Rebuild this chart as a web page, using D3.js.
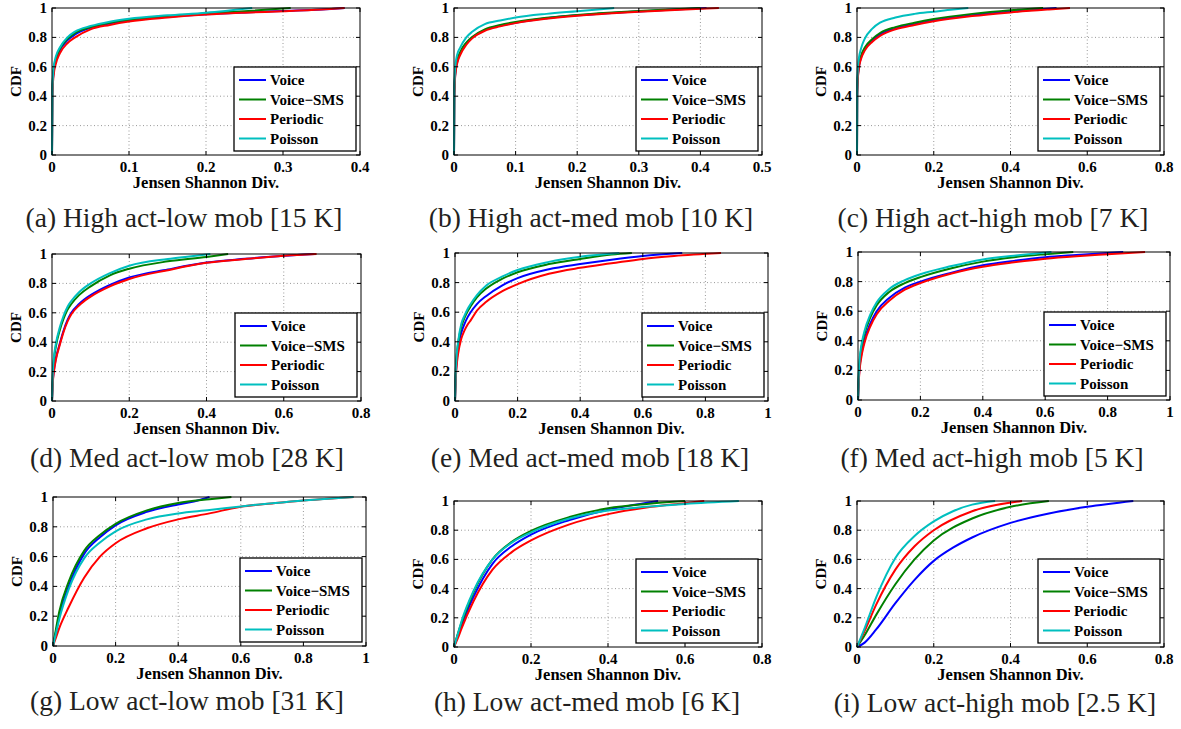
<!DOCTYPE html>
<html>
<head>
<meta charset="utf-8">
<script src="https://d3js.org/d3.v7.min.js"></script>
<style>
  body { margin: 0; background: #fff; }
  text { font-family: "Liberation Serif", "Times New Roman", serif; }
</style>
</head>
<body>
<script>
// legend entries, matlab default colours
var seriesNames = ["Voice", "Voice\u2212SMS", "Periodic", "Poisson"];
var seriesColors = ["#0000ff", "#008000", "#ff0000", "#00bfbf"];

var captions = [
  "(a) High act-low mob [15 K]", "(b) High act-med mob [10 K]", "(c) High act-high mob [7 K]",
  "(d) Med act-low mob [28 K]", "(e) Med act-med mob [18 K]", "(f) Med act-high mob [5 K]",
  "(g) Low act-low mob [31 K]", "(h) Low act-med mob [6 K]", "(i) Low act-high mob [2.5 K]"
];
var xMax = [0.4, 0.5, 0.8, 0.8, 1, 1, 1, 0.8, 0.8];
var xStep = [0.1, 0.1, 0.2, 0.2, 0.2, 0.2, 0.2, 0.2, 0.2];
var yTicks = [0, 0.2, 0.4, 0.6, 0.8, 1];

// CDF points [Jensen Shannon div, CDF]
var aVoice    = [[0,0],[0.0005,0.42],[0.002,0.56],[0.005,0.64],[0.01,0.71],[0.02,0.78],[0.03,0.82],[0.05,0.865],[0.075,0.895],[0.1,0.915],[0.15,0.94],[0.2,0.958],[0.25,0.97],[0.3,0.98],[0.35,0.99],[0.38,1]];
var aVoiceSMS = [[0,0],[0.0005,0.44],[0.002,0.57],[0.005,0.65],[0.01,0.72],[0.02,0.79],[0.03,0.83],[0.05,0.87],[0.075,0.9],[0.1,0.92],[0.15,0.945],[0.2,0.963],[0.25,0.978],[0.31,1]];
var aPeriodic = [[0,0],[0.0005,0.4],[0.002,0.54],[0.005,0.62],[0.01,0.69],[0.02,0.76],[0.03,0.8],[0.05,0.855],[0.075,0.885],[0.1,0.908],[0.15,0.935],[0.2,0.955],[0.25,0.968],[0.3,0.978],[0.35,0.99],[0.38,1]];
var aPoisson  = [[0,0],[0.0005,0.45],[0.002,0.59],[0.005,0.67],[0.01,0.73],[0.02,0.8],[0.03,0.84],[0.05,0.877],[0.075,0.907],[0.1,0.927],[0.15,0.95],[0.2,0.968],[0.26,1]];

var bVoice    = [[0,0],[0.0005,0.4],[0.002,0.55],[0.005,0.63],[0.01,0.69],[0.02,0.76],[0.03,0.8],[0.05,0.85],[0.075,0.88],[0.1,0.9],[0.15,0.93],[0.2,0.95],[0.25,0.965],[0.3,0.977],[0.35,0.988],[0.41,1]];
var bVoiceSMS = [[0,0],[0.0005,0.41],[0.002,0.56],[0.005,0.64],[0.01,0.7],[0.02,0.765],[0.03,0.805],[0.05,0.855],[0.075,0.885],[0.1,0.905],[0.15,0.933],[0.2,0.953],[0.25,0.968],[0.3,0.98],[0.35,0.99],[0.4,1]];
var bPeriodic = [[0,0],[0.0005,0.39],[0.002,0.54],[0.005,0.62],[0.01,0.68],[0.02,0.75],[0.03,0.795],[0.05,0.845],[0.075,0.875],[0.1,0.897],[0.15,0.927],[0.2,0.948],[0.25,0.963],[0.3,0.975],[0.35,0.985],[0.43,1]];
var bPoisson  = [[0,0],[0.0005,0.45],[0.002,0.6],[0.005,0.68],[0.01,0.73],[0.02,0.8],[0.03,0.84],[0.05,0.89],[0.075,0.915],[0.1,0.935],[0.15,0.96],[0.2,0.978],[0.26,1]];

var cVoice    = [[0,0],[0.0005,0.4],[0.002,0.52],[0.005,0.6],[0.01,0.66],[0.02,0.72],[0.04,0.78],[0.06,0.82],[0.1,0.86],[0.15,0.89],[0.2,0.915],[0.3,0.95],[0.4,0.975],[0.52,1]];
var cVoiceSMS = [[0,0],[0.0005,0.41],[0.002,0.53],[0.005,0.61],[0.01,0.67],[0.02,0.73],[0.04,0.79],[0.06,0.83],[0.1,0.87],[0.15,0.9],[0.2,0.925],[0.3,0.96],[0.4,0.985],[0.485,1]];
var cPeriodic = [[0,0],[0.0005,0.39],[0.002,0.51],[0.005,0.59],[0.01,0.65],[0.02,0.71],[0.04,0.77],[0.06,0.81],[0.1,0.855],[0.15,0.885],[0.2,0.91],[0.3,0.945],[0.4,0.97],[0.5,0.99],[0.555,1]];
var cPoisson  = [[0,0],[0.0005,0.45],[0.002,0.58],[0.005,0.66],[0.01,0.72],[0.02,0.79],[0.04,0.86],[0.06,0.9],[0.1,0.935],[0.15,0.96],[0.2,0.975],[0.25,0.99],[0.29,1]];

var dVoice    = [[0,0],[0.002,0.13],[0.005,0.21],[0.01,0.29],[0.02,0.39],[0.03,0.48],[0.04,0.55],[0.05,0.6],[0.07,0.66],[0.1,0.72],[0.15,0.79],[0.2,0.84],[0.3,0.895],[0.4,0.942],[0.5,0.967],[0.6,0.988],[0.68,1]];
var dVoiceSMS = [[0,0],[0.002,0.17],[0.005,0.28],[0.01,0.37],[0.02,0.48],[0.03,0.56],[0.04,0.62],[0.05,0.66],[0.07,0.72],[0.1,0.78],[0.15,0.855],[0.2,0.9],[0.3,0.95],[0.4,0.98],[0.456,1]];
var dPeriodic = [[0,0],[0.002,0.12],[0.005,0.2],[0.01,0.28],[0.02,0.38],[0.03,0.47],[0.04,0.54],[0.05,0.59],[0.07,0.65],[0.1,0.71],[0.15,0.78],[0.2,0.83],[0.3,0.89],[0.4,0.94],[0.5,0.966],[0.6,0.988],[0.685,1]];
var dPoisson  = [[0,0],[0.002,0.19],[0.005,0.3],[0.01,0.39],[0.02,0.5],[0.03,0.58],[0.04,0.64],[0.05,0.68],[0.07,0.74],[0.1,0.8],[0.15,0.87],[0.2,0.92],[0.3,0.966],[0.35,0.982],[0.41,1]];

var eVoice    = [[0,0],[0.002,0.15],[0.005,0.26],[0.01,0.36],[0.02,0.46],[0.03,0.52],[0.04,0.565],[0.05,0.6],[0.07,0.655],[0.1,0.71],[0.15,0.78],[0.2,0.83],[0.3,0.89],[0.4,0.925],[0.5,0.955],[0.6,0.98],[0.726,1]];
var eVoiceSMS = [[0,0],[0.002,0.17],[0.005,0.29],[0.01,0.39],[0.02,0.5],[0.03,0.56],[0.04,0.605],[0.05,0.64],[0.07,0.7],[0.1,0.76],[0.15,0.825],[0.2,0.87],[0.3,0.925],[0.4,0.96],[0.5,0.99],[0.565,1]];
var ePeriodic = [[0,0],[0.002,0.13],[0.005,0.23],[0.01,0.32],[0.02,0.42],[0.03,0.475],[0.04,0.515],[0.05,0.545],[0.07,0.61],[0.1,0.67],[0.15,0.74],[0.2,0.79],[0.3,0.86],[0.4,0.9],[0.5,0.93],[0.6,0.96],[0.7,0.98],[0.85,1]];
var ePoisson  = [[0,0],[0.002,0.18],[0.005,0.3],[0.01,0.4],[0.02,0.52],[0.03,0.575],[0.04,0.62],[0.05,0.655],[0.07,0.715],[0.1,0.78],[0.15,0.84],[0.2,0.885],[0.3,0.94],[0.4,0.975],[0.525,1]];

var fVoice    = [[0,0],[0.002,0.12],[0.005,0.22],[0.01,0.3],[0.02,0.4],[0.04,0.52],[0.06,0.6],[0.1,0.69],[0.15,0.76],[0.2,0.8],[0.3,0.86],[0.4,0.91],[0.5,0.94],[0.6,0.965],[0.7,0.98],[0.85,1]];
var fVoiceSMS = [[0,0],[0.002,0.14],[0.005,0.25],[0.01,0.34],[0.02,0.44],[0.04,0.56],[0.06,0.64],[0.1,0.73],[0.15,0.79],[0.2,0.83],[0.3,0.89],[0.4,0.935],[0.5,0.965],[0.6,0.985],[0.69,1]];
var fPeriodic = [[0,0],[0.002,0.11],[0.005,0.2],[0.01,0.28],[0.02,0.38],[0.04,0.5],[0.06,0.58],[0.1,0.67],[0.15,0.745],[0.2,0.79],[0.3,0.855],[0.4,0.9],[0.5,0.93],[0.6,0.955],[0.7,0.972],[0.8,0.985],[0.92,1]];
var fPoisson  = [[0,0],[0.002,0.15],[0.005,0.27],[0.01,0.36],[0.02,0.46],[0.04,0.58],[0.06,0.66],[0.1,0.75],[0.15,0.81],[0.2,0.85],[0.3,0.905],[0.4,0.95],[0.5,0.975],[0.62,1]];

var gVoice    = [[0,0],[0.01,0.1],[0.02,0.2],[0.05,0.4],[0.1,0.62],[0.15,0.73],[0.2,0.81],[0.3,0.9],[0.4,0.95],[0.45,0.97],[0.5,1]];
var gVoiceSMS = [[0,0],[0.01,0.12],[0.02,0.23],[0.05,0.43],[0.1,0.64],[0.15,0.745],[0.2,0.82],[0.3,0.91],[0.4,0.96],[0.5,0.985],[0.57,1]];
var gPeriodic = [[0,0],[0.01,0.06],[0.02,0.12],[0.05,0.26],[0.1,0.46],[0.15,0.6],[0.2,0.69],[0.3,0.79],[0.4,0.85],[0.5,0.89],[0.6,0.935],[0.7,0.957],[0.8,0.977],[0.9,0.992],[0.96,1]];
var gPoisson  = [[0,0],[0.01,0.09],[0.02,0.18],[0.05,0.38],[0.1,0.59],[0.15,0.695],[0.2,0.77],[0.3,0.85],[0.4,0.89],[0.5,0.912],[0.6,0.937],[0.7,0.958],[0.8,0.977],[0.9,0.992],[0.96,1]];

var hVoice    = [[0,0],[0.01,0.08],[0.02,0.15],[0.05,0.34],[0.1,0.57],[0.15,0.69],[0.2,0.77],[0.3,0.87],[0.4,0.94],[0.45,0.965],[0.53,1]];
var hVoiceSMS = [[0,0],[0.01,0.09],[0.02,0.17],[0.05,0.37],[0.1,0.6],[0.15,0.72],[0.2,0.795],[0.3,0.89],[0.4,0.95],[0.5,0.98],[0.6,1]];
var hPeriodic = [[0,0],[0.01,0.06],[0.02,0.13],[0.05,0.31],[0.1,0.53],[0.15,0.65],[0.2,0.73],[0.3,0.84],[0.4,0.91],[0.5,0.955],[0.6,0.985],[0.65,1]];
var hPoisson  = [[0,0],[0.01,0.09],[0.02,0.18],[0.05,0.38],[0.1,0.6],[0.15,0.715],[0.2,0.785],[0.3,0.88],[0.4,0.935],[0.5,0.96],[0.6,0.98],[0.74,1]];

var iVoice    = [[0,0],[0.02,0.03],[0.05,0.12],[0.1,0.3],[0.15,0.46],[0.2,0.59],[0.25,0.68],[0.3,0.75],[0.4,0.85],[0.5,0.915],[0.6,0.96],[0.72,1]];
var iVoiceSMS = [[0,0],[0.02,0.08],[0.05,0.22],[0.1,0.43],[0.15,0.6],[0.2,0.73],[0.3,0.88],[0.4,0.96],[0.5,1]];
var iPeriodic = [[0,0],[0.02,0.11],[0.05,0.29],[0.1,0.53],[0.15,0.69],[0.2,0.8],[0.3,0.93],[0.43,1]];
var iPoisson  = [[0,0],[0.02,0.13],[0.05,0.34],[0.1,0.61],[0.15,0.76],[0.2,0.86],[0.25,0.93],[0.3,0.975],[0.36,1]];

var panelSeries = [
  [aVoice, aVoiceSMS, aPeriodic, aPoisson],
  [bVoice, bVoiceSMS, bPeriodic, bPoisson],
  [cVoice, cVoiceSMS, cPeriodic, cPoisson],
  [dVoice, dVoiceSMS, dPeriodic, dPoisson],
  [eVoice, eVoiceSMS, ePeriodic, ePoisson],
  [fVoice, fVoiceSMS, fPeriodic, fPoisson],
  [gVoice, gVoiceSMS, gPeriodic, gPoisson],
  [hVoice, hVoiceSMS, hPeriodic, hPoisson],
  [iVoice, iVoiceSMS, iPeriodic, iPoisson]
];

// plot boxes: left, top, width, height, caption centre x, caption baseline y
var layout = [
  [52, 8, 308, 147, 184, 227],
  [454, 8, 308, 147, 591, 227],
  [857, 8, 307, 147, 993, 227],
  [52, 254, 309, 147, 187, 467],
  [455, 253, 313, 148, 590, 467],
  [858, 252, 312, 148, 992, 467],
  [53, 497, 313, 149, 187, 710],
  [454, 501, 308, 146, 587, 711],
  [857, 501, 307, 146, 995, 712]
];

var svg = d3.select("body").append("svg")
    .attr("width", 1181)
    .attr("height", 729);

var fmt = function (d) { return d === 0 ? "0" : String(+d.toFixed(1)); };

layout.forEach(function (L, p) {
  var left = L[0], top = L[1], w = L[2], h = L[3];
  var g = svg.append("g").attr("transform", "translate(" + left + "," + top + ")");

  var x = d3.scaleLinear().domain([0, xMax[p]]).range([0, w]);
  var y = d3.scaleLinear().domain([0, 1]).range([h, 0]);
  var xTicks = d3.range(0, xMax[p] + 1e-9, xStep[p]);

  // dotted grid
  g.selectAll(".gx").data(xTicks.slice(1, -1)).enter().append("line")
      .attr("x1", function (d) { return x(d); }).attr("x2", function (d) { return x(d); })
      .attr("y1", 0).attr("y2", h)
      .attr("stroke", "#999").attr("stroke-width", 1).attr("stroke-dasharray", "1,2.5");
  g.selectAll(".gy").data(yTicks.slice(1, -1)).enter().append("line")
      .attr("x1", 0).attr("x2", w)
      .attr("y1", function (d) { return y(d); }).attr("y2", function (d) { return y(d); })
      .attr("stroke", "#999").attr("stroke-width", 1).attr("stroke-dasharray", "1,2.5");

  // curves
  var line = d3.line()
      .x(function (d) { return x(d[0]); })
      .y(function (d) { return y(d[1]); })
      .curve(d3.curveMonotoneX);
  panelSeries[p].forEach(function (s, i) {
    g.append("path").datum(s)
        .attr("d", line)
        .attr("fill", "none")
        .attr("stroke", seriesColors[i])
        .attr("stroke-width", 2);
  });

  // box and inward ticks on all sides
  g.append("rect").attr("width", w).attr("height", h)
      .attr("fill", "none").attr("stroke", "#000").attr("stroke-width", 1);
  var tl = 4;
  xTicks.forEach(function (t) {
    g.append("line").attr("x1", x(t)).attr("x2", x(t)).attr("y1", h).attr("y2", h - tl).attr("stroke", "#000");
    g.append("line").attr("x1", x(t)).attr("x2", x(t)).attr("y1", 0).attr("y2", tl).attr("stroke", "#000");
  });
  yTicks.forEach(function (t) {
    g.append("line").attr("x1", 0).attr("x2", tl).attr("y1", y(t)).attr("y2", y(t)).attr("stroke", "#000");
    g.append("line").attr("x1", w).attr("x2", w - tl).attr("y1", y(t)).attr("y2", y(t)).attr("stroke", "#000");
  });

  // tick labels
  g.selectAll(".xl").data(xTicks).enter().append("text")
      .attr("x", function (d) { return x(d); })
      .attr("y", h + 17)
      .attr("text-anchor", "middle")
      .style("font-size", "15px").style("font-weight", "bold")
      .text(fmt);
  g.selectAll(".yl").data(yTicks).enter().append("text")
      .attr("x", -5)
      .attr("y", function (d) { return y(d) + 5; })
      .attr("text-anchor", "end")
      .style("font-size", "15px").style("font-weight", "bold")
      .text(fmt);

  // axis titles
  g.append("text")
      .attr("x", w / 2).attr("y", h + 33)
      .attr("text-anchor", "middle")
      .style("font-size", "16.5px").style("font-weight", "bold")
      .text("Jensen Shannon Div.");
  g.append("text")
      .attr("transform", "translate(-31," + (h / 2) + ") rotate(-90)")
      .attr("text-anchor", "middle")
      .style("font-size", "15px").style("font-weight", "bold")
      .text("CDF");

  // legend
  var lw = 122, lh = 84;
  var lg = g.append("g").attr("transform", "translate(" + (w - 4 - lw) + "," + (h - 4 - lh) + ")");
  lg.append("rect").attr("width", lw).attr("height", lh)
      .attr("fill", "#fff").attr("stroke", "#000").attr("stroke-width", 1.3);
  seriesNames.forEach(function (name, i) {
    var cy = 13 + i * 19.5;
    lg.append("line").attr("x1", 5).attr("x2", 32).attr("y1", cy).attr("y2", cy)
        .attr("stroke", seriesColors[i]).attr("stroke-width", 2);
    lg.append("text").attr("x", 36).attr("y", cy + 5)
        .style("font-size", "15px").style("font-weight", "bold")
        .text(name);
  });

  // caption
  svg.append("text")
      .attr("x", L[4]).attr("y", L[5])
      .attr("text-anchor", "middle")
      .attr("fill", "#231f20")
      .style("font-size", "27.5px")
      .text(captions[p]);
});
</script>
</body>
</html>
